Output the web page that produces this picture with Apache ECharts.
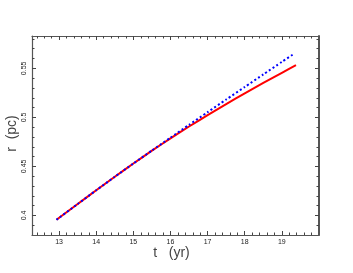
<!DOCTYPE html>
<html>
<head>
<meta charset="utf-8">
<script src="https://cdn.jsdelivr.net/npm/echarts@6/dist/echarts.min.js"></script>
<style>html,body{margin:0;padding:0;background:#fff}#c{width:353px;height:273px}</style>
</head>
<body>
<div id="c"></div>
<script>
// Data
var tRed = [12.93, 13.5, 14, 14.5, 15, 15.5, 16, 16.5, 17, 17.5, 18, 18.5, 19, 19.38];
var rRed = [0.3956, 0.4116, 0.4256, 0.4394, 0.4529, 0.4660, 0.4786, 0.4907, 0.5023, 0.5136, 0.5245, 0.5351, 0.5454, 0.5532];
var tBlue = [12.93, 13.5, 14, 14.5, 15, 15.5, 16, 16.5, 17, 17.5, 18, 18.5, 19, 19.32];
var rBlue = [0.3956, 0.4116, 0.4256, 0.4394, 0.4529, 0.4662, 0.4793, 0.4924, 0.5053, 0.5182, 0.5310, 0.5438, 0.5566, 0.5647];
var xMajorTicks = [13, 14, 15, 16, 17, 18, 19];
var yMajorTicks = [0.4, 0.45, 0.5, 0.55];
var xMinorStep = 0.2, yMinorStep = 0.01;

var X_MIN = 12.27, X_MAX = 20, Y_MIN = 0.38, Y_MAX = 0.583;

function minorList(lo, hi, step, majors) {
  var out = [];
  var start = Math.ceil(lo / step - 1e-9);
  for (var k = start; k * step <= hi + 1e-9; k++) {
    var v = +(k * step).toFixed(6);
    if (v <= lo + 1e-9 || v >= hi - 1e-9) continue;
    var isMajor = majors.some(function (m) { return Math.abs(m - v) < 1e-6; });
    if (!isMajor) out.push(v);
  }
  return out;
}
var xMinor = minorList(X_MIN, X_MAX, xMinorStep, xMajorTicks);
var yMinor = minorList(Y_MIN, Y_MAX, yMinorStep, yMajorTicks);

function zip(a, b) { return a.map(function (v, i) { return [v, b[i]]; }); }

var lineCol = '#555';
var font = 'Liberation Sans, Arial, sans-serif';

function xAx(pos, major, labels, lineW) {
  return {
    type: 'value', position: pos, min: X_MIN, max: X_MAX,
    axisLine: { show: lineW > 0, onZero: false, lineStyle: { color: lineCol, width: lineW } },
    axisTick: { show: true, inside: true, length: major ? 4 : 2.5, customValues: major ? xMajorTicks : xMinor, lineStyle: { color: '#444', width: 1 } },
    axisLabel: labels ? { show: true, customValues: xMajorTicks, fontSize: 7, color: '#222', fontFamily: font, margin: 4 } : { show: false },
    splitLine: { show: false },
    name: labels ? 't   (yr)' : '', nameLocation: 'middle', nameGap: 11, nameMoveOverlap: false,
    nameTextStyle: { fontSize: 14, color: '#444', fontFamily: font, verticalAlign: 'top', padding: [0, 8, 0, 0] }
  };
}
function yAx(pos, major, labels, lineW) {
  return {
    type: 'value', position: pos, min: Y_MIN, max: Y_MAX,
    axisLine: { show: lineW > 0, onZero: false, lineStyle: { color: lineCol, width: lineW } },
    axisTick: { show: true, inside: true, length: major ? 4 : 2.5, customValues: major ? yMajorTicks : yMinor, lineStyle: { color: '#444', width: 1 } },
    axisLabel: labels ? { show: true, customValues: yMajorTicks, rotate: 90, fontSize: 7, color: '#222', fontFamily: font, margin: 4,
      formatter: function (v) { return String(+v.toFixed(2)); } } : { show: false },
    splitLine: { show: false },
    name: labels ? 'r  (pc)' : '', nameLocation: 'middle', nameGap: 13, nameRotate: 90, nameMoveOverlap: false,
    nameTextStyle: { fontSize: 14, color: '#444', fontFamily: font, padding: [0, 0, 0, 4] }
  };
}

var chart = echarts.init(document.getElementById('c'), null, { renderer: 'canvas' });
chart.setOption({
  animation: false,
  backgroundColor: '#fff',
  grid: { left: 32, right: 34, top: 36, bottom: 38, containLabel: false, outerBoundsMode: 'none' },
  xAxis: [xAx('bottom', true, true, 1.2), xAx('bottom', false, false, 0), xAx('top', true, false, 1.2), xAx('top', false, false, 0)],
  yAxis: [yAx('left', true, true, 1.2), yAx('left', false, false, 0), yAx('right', true, false, 2), yAx('right', false, false, 0)],
  series: [
    { type: 'line', xAxisIndex: 0, yAxisIndex: 0, data: zip(tRed, rRed), smooth: 0.2, showSymbol: false,
      lineStyle: { color: '#ff0000', width: 2 } },
    { type: 'line', xAxisIndex: 0, yAxisIndex: 0, data: zip(tBlue, rBlue), smooth: 0.2, showSymbol: false,
      lineStyle: { color: '#0000ff', width: 2, type: [2, 2.4] } }
  ]
});
</script>
</body>
</html>
